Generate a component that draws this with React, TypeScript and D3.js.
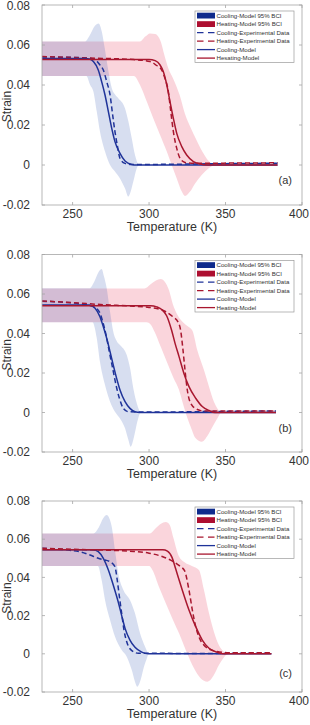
import React, { useEffect } from 'react';
import * as d3 from 'd3';

type Pt = [number, number];

// ---- panel (a) ----
const aCoolBandUpper: Pt[] = [[230, 0.0617], [258, 0.0617], [261, 0.0645], [264.5, 0.0695], [267, 0.0707], [269, 0.067], [271, 0.0585], [273.4, 0.047], [275.6, 0.0385], [278, 0.035], [280, 0.0333], [284.3, 0.0283], [286.5, 0.0217], [288.7, 0.0133], [290.8, 0.005], [293, 0]];
const aCoolBandLower: Pt[] = [[230, 0.0445], [259, 0.0445], [261.5, 0.04], [263.6, 0.0367], [265.8, 0.0267], [267.9, 0.0167], [271.2, 0.0067], [274.5, 0], [277.7, -0.0033], [281, -0.0067], [284.3, -0.0117], [286.5, -0.0158], [288, -0.0133], [289.7, -0.0083], [291.9, -0.0017], [293, 0]];
const aHeatBandUpper: Pt[] = [[230, 0.0617], [294, 0.0617], [297.5, 0.0642], [300.6, 0.0658], [304, 0.0655], [307.5, 0.062], [310, 0.055], [312.5, 0.0485], [316, 0.0428], [320, 0.035], [323.5, 0.0255], [327, 0.019], [331, 0.0125], [335, 0.0065], [339, 0.002], [342.5, 0]];
const aHeatBandLower: Pt[] = [[230, 0.0445], [290, 0.0445], [294.1, 0.04], [298.5, 0.0317], [302.8, 0.0233], [307.2, 0.015], [311.6, 0.0067], [314.8, 0], [318.1, -0.0067], [321.4, -0.0133], [323.5, -0.0155], [326.8, -0.0133], [330.1, -0.0092], [334.4, -0.005], [338.8, -0.0017], [342.5, 0]];
const aCoolExp: Pt[] = [[230, 0.054], [255, 0.0537], [262, 0.0533], [265, 0.0525], [267.9, 0.05], [270.1, 0.0475], [272.3, 0.0417], [274.5, 0.035], [276.2, 0.025], [277.7, 0.0167], [279.2, 0.01], [281, 0.0033], [284.3, 0.0008], [287.5, 0.0003], [300, 0.0003], [340, 0.0006], [384, 0.0009]];
const aHeatExp: Pt[] = [[230, 0.0542], [260, 0.0535], [290, 0.0527], [300.6, 0.0517], [304.5, 0.05], [308.3, 0.0475], [310.4, 0.0433], [312.6, 0.0367], [314.2, 0.0267], [315.9, 0.0167], [318.1, 0.0083], [320.3, 0.0033], [323.5, 0.0013], [328, 0.0009], [384, 0.0011]];
const aCoolModel: Pt[] = [[230, 0.0533], [258, 0.0533], [261, 0.053], [263.6, 0.0517], [266.8, 0.0475], [269, 0.0417], [271.2, 0.035], [273.4, 0.0267], [275.6, 0.0183], [277.7, 0.0117], [281, 0.0058], [284.3, 0.002], [288.7, 0.0003], [292, 0], [384, 0]];
const aHeatModel: Pt[] = [[230, 0.0528], [300, 0.0528], [304, 0.0522], [307.2, 0.05], [309.3, 0.0467], [311.6, 0.04], [313.7, 0.0317], [315.9, 0.0233], [318.1, 0.0158], [321.4, 0.0092], [324.6, 0.005], [329, 0.0017], [333.3, 0.0005], [338, 0], [384, 0]];

// ---- panel (b) ----
const bCoolBandUpper: Pt[] = [[230, 0.0629], [261, 0.0629], [264, 0.066], [267, 0.0712], [269, 0.0727], [270.5, 0.069], [272.3, 0.0629], [274.5, 0.051], [276.6, 0.0409], [279, 0.036], [281, 0.0342], [285.4, 0.0291], [287.6, 0.0224], [289.7, 0.0123], [292.3, 0.0038], [294.1, 0]];
const bCoolBandLower: Pt[] = [[230, 0.0457], [263, 0.0457], [265.8, 0.0376], [267.9, 0.0257], [271.2, 0.0139], [274.5, 0.0055], [277.7, 0.0004], [281, -0.003], [284.3, -0.008], [286.5, -0.0139], [288, -0.0173], [290.2, -0.0122], [292.3, -0.0047], [294.1, 0]];
const bHeatBandUpper: Pt[] = [[230, 0.0628], [297, 0.0628], [301, 0.065], [304.5, 0.0668], [307.6, 0.0676], [310.5, 0.066], [313, 0.062], [315.5, 0.055], [318.5, 0.0495], [322, 0.0458], [325.5, 0.0435], [328.3, 0.0415], [331.5, 0.0316], [335.9, 0.0215], [339.2, 0.0131], [342.4, 0.0055], [346.7, 0]];
const bHeatBandLower: Pt[] = [[230, 0.0457], [298.5, 0.0457], [301, 0.0445], [303.5, 0.041], [307.5, 0.0335], [312, 0.0249], [316, 0.0175], [319.6, 0.0114], [322, 0.005], [323.9, 0], [327.2, -0.0072], [330.5, -0.0131], [334.4, -0.0148], [339.2, -0.0105], [342.4, -0.006], [345.6, -0.0017], [346.7, 0]];
const bCoolExp: Pt[] = [[230, 0.0563], [245, 0.0558], [255, 0.055], [263.6, 0.0536], [267.5, 0.051], [269.7, 0.046], [271.9, 0.0392], [274, 0.0308], [276.2, 0.0224], [278.4, 0.0139], [280.6, 0.0072], [283.2, 0.0021], [286.5, 0.0004], [300, 0.0002], [340, 0.0005], [383, 0.0008]];
const bHeatExp: Pt[] = [[230, 0.0565], [250, 0.0556], [270, 0.0546], [290, 0.0538], [300, 0.0532], [305, 0.0527], [311, 0.051], [315.5, 0.0485], [318.8, 0.046], [320.6, 0.0418], [322.2, 0.0316], [323.5, 0.0215], [325, 0.0114], [327.2, 0.0047], [331.6, 0.0015], [336, 0.0007], [383, 0.0008]];
const bCoolModel: Pt[] = [[230, 0.0544], [261, 0.0544], [264.7, 0.0528], [267.9, 0.0485], [270.1, 0.0434], [272.3, 0.0376], [274.5, 0.0308], [276.6, 0.024], [278.8, 0.0173], [281, 0.0114], [284.3, 0.0055], [287.5, 0.0021], [290.8, 0.0004], [294, 0], [383, 0]];
const bHeatModel: Pt[] = [[230, 0.0541], [301, 0.0541], [305, 0.0535], [308.5, 0.052], [311.5, 0.049], [314.7, 0.0418], [317, 0.035], [319.6, 0.0283], [322.8, 0.0198], [326.1, 0.0131], [330.5, 0.0072], [334.8, 0.003], [339.2, 0.001], [343, 0], [383, 0]];

// ---- panel (c) ----
const cCoolBandUpper: Pt[] = [[230, 0.063], [263.6, 0.063], [267, 0.066], [270, 0.071], [272.3, 0.0727], [274, 0.071], [275.6, 0.0665], [277.7, 0.0543], [279.9, 0.0421], [283.2, 0.0334], [287.5, 0.0282], [290.8, 0.0212], [294.1, 0.0107], [297.4, 0.0037], [299.5, 0]];
const cCoolBandLower: Pt[] = [[230, 0.046], [266.5, 0.046], [269, 0.0386], [271.2, 0.0282], [274.5, 0.0177], [277.7, 0.009], [282.1, 0.002], [285.4, -0.0015], [288.7, -0.0085], [290.8, -0.0146], [292.3, -0.0172], [294.5, -0.0136], [296.7, -0.0067], [298.9, -0.0015], [299.5, 0]];
const cHeatBandUpper: Pt[] = [[230, 0.063], [300.5, 0.063], [304, 0.0655], [307.5, 0.068], [311, 0.069], [313.5, 0.0675], [316, 0.0605], [319, 0.052], [323, 0.048], [328, 0.046], [332.6, 0.0439], [335.9, 0.0334], [339.2, 0.0212], [342.4, 0.0116], [345.6, 0.0046], [348.9, 0.0011], [351, 0]];
const cHeatBandLower: Pt[] = [[230, 0.046], [300, 0.046], [302.2, 0.0439], [306.5, 0.035], [311, 0.0264], [315.5, 0.018], [319.6, 0.0107], [325, 0], [329.4, -0.0076], [333.7, -0.0128], [338.1, -0.0146], [342.4, -0.0111], [345.6, -0.006], [348.9, -0.002], [351, 0]];
const cCoolExp: Pt[] = [[230, 0.0552], [254.9, 0.0534], [261.4, 0.0517], [266.8, 0.05], [271.2, 0.0491], [274.5, 0.0482], [277.7, 0.0456], [279.2, 0.0386], [280.6, 0.0299], [282.1, 0.0212], [283.6, 0.0125], [285.4, 0.0063], [288.7, 0.0017], [293, 0.0003], [330, 0.0002], [380, 0.0003]];
const cHeatExp: Pt[] = [[230, 0.0552], [260, 0.0545], [290, 0.0536], [300, 0.0527], [309, 0.0508], [316, 0.0482], [320, 0.046], [323.2, 0.0435], [326.1, 0.0334], [328.3, 0.0229], [330.5, 0.0142], [333, 0.0081], [336.9, 0.0037], [342.4, 0.0016], [351, 0.0006], [380, 0.0005]];
const cCoolModel: Pt[] = [[230, 0.0545], [263.6, 0.0545], [266.8, 0.0535], [270.1, 0.05], [273.4, 0.0439], [276.6, 0.036], [279.9, 0.027], [282.1, 0.02], [284.3, 0.0133], [287.5, 0.0072], [290.8, 0.0034], [295.2, 0.0009], [299.5, 0], [380, 0]];
const cHeatModel: Pt[] = [[230, 0.0545], [309, 0.0545], [312, 0.0538], [315, 0.0505], [317.4, 0.0445], [319.5, 0.039], [321.7, 0.0334], [326.1, 0.0229], [330.5, 0.0142], [334.8, 0.0072], [339.2, 0.0029], [344.6, 0.0008], [348, 0], [380, 0]];

const xTicks = [250, 300, 350, 400];
const yTicks = [-0.02, 0, 0.02, 0.04, 0.06, 0.08];
const legendA = ['Cooling-Model 95% BCI', 'Heating-Model 95% BCI', 'Cooling-Experimental Data', 'Heating-Experimental Data', 'Cooling-Model', 'Hesating-Model'];
const legendBC = ['Cooling-Model 95% BCI', 'Heating-Model 95% BCI', 'Cooling-Experimental Data', 'Heating-Experimental Data', 'Cooling-Model', 'Heating-Model'];

const COOL = '#1f3399';
const HEAT = '#a8172f';
const AXIS = '#a6a6a6';
const FONT = '"Liberation Sans", Arial, Helvetica, sans-serif';

const panels = [
  { top: 5, bottom: 205, tag: '(a)', tagY: 184, legend: legendA,
    coolBand: [aCoolBandUpper, aCoolBandLower], heatBand: [aHeatBandUpper, aHeatBandLower],
    coolExp: aCoolExp, heatExp: aHeatExp, coolModel: aCoolModel, heatModel: aHeatModel },
  { top: 254.5, bottom: 452, tag: '(b)', tagY: 432, legend: legendBC,
    coolBand: [bCoolBandUpper, bCoolBandLower], heatBand: [bHeatBandUpper, bHeatBandLower],
    coolExp: bCoolExp, heatExp: bHeatExp, coolModel: bCoolModel, heatModel: bHeatModel },
  { top: 501, bottom: 692, tag: '(c)', tagY: 677, legend: legendBC,
    coolBand: [cCoolBandUpper, cCoolBandLower], heatBand: [cHeatBandUpper, cHeatBandLower],
    coolExp: cCoolExp, heatExp: cHeatExp, coolModel: cCoolModel, heatModel: cHeatModel },
];

const x = d3.scaleLinear().domain([230, 400]).range([42, 302]);

function Panel({ p }: { p: typeof panels[number] }) {
  const y = d3.scaleLinear().domain([-0.02, 0.08]).range([p.bottom, p.top]);
  const line = d3.line<Pt>().x(d => x(d[0])).y(d => y(d[1])).curve(d3.curveMonotoneX);

  const band = (upper: Pt[], lower: Pt[]) => {
    const up = line(upper) || '';
    const lo = line(lower.slice().reverse()) || '';
    return up + 'L' + lo.slice(1) + 'Z';
  };

  const x0 = x.range()[0], x1 = x.range()[1];
  const fmt = (v: number) => (v === 0 ? '0' : v.toFixed(2));

  // legend
  const lx = 195, lw = 99, ltop = p.top + 6, lh = 51.5, rowGap = 8.5;
  const rowY = (i: number) => ltop + 4.6 + i * rowGap;

  return (
    <g>
      <path d={band(p.heatBand[0], p.heatBand[1])} fill="rgb(230,45,80)" fillOpacity={0.2} />
      <path d={band(p.coolBand[0], p.coolBand[1])} fill="rgb(55,90,180)" fillOpacity={0.2} />

      <path d={line(p.coolExp) || ''} fill="none" stroke={COOL} strokeWidth={1.5} strokeDasharray="5,3" />
      <path d={line(p.heatExp) || ''} fill="none" stroke={HEAT} strokeWidth={1.5} strokeDasharray="5,3" />
      <path d={line(p.coolModel) || ''} fill="none" stroke={COOL} strokeWidth={1.5} />
      <path d={line(p.heatModel) || ''} fill="none" stroke={HEAT} strokeWidth={1.5} />

      {/* box and ticks */}
      <rect x={x0} y={p.top} width={x1 - x0} height={p.bottom - p.top} fill="none" stroke={AXIS} strokeWidth={0.8} />
      {xTicks.map(t => (
        <g key={'x' + t}>
          <line x1={x(t)} x2={x(t)} y1={p.bottom} y2={p.bottom - 3} stroke={AXIS} strokeWidth={0.8} />
          <line x1={x(t)} x2={x(t)} y1={p.top} y2={p.top + 3} stroke={AXIS} strokeWidth={0.8} />
          <text x={Math.min(x(t), 299)} y={p.bottom + 12.5} textAnchor="middle" fontSize={12} fill="#333">{t}</text>
        </g>
      ))}
      {yTicks.map(t => (
        <g key={'y' + t}>
          <line x1={x0} x2={x0 + 3} y1={y(t)} y2={y(t)} stroke={AXIS} strokeWidth={0.8} />
          <line x1={x1} x2={x1 - 3} y1={y(t)} y2={y(t)} stroke={AXIS} strokeWidth={0.8} />
          <text x={30} y={Math.max(y(t), 6)} dy="0.35em" textAnchor="end" fontSize={12} fill="#333">{fmt(t)}</text>
        </g>
      ))}
      <text x={(x0 + x1) / 2} y={p.bottom + 26} textAnchor="middle" fontSize={12.5} fill="#333">Temperature (K)</text>
      <text transform={`translate(10.5,${(p.top + p.bottom) / 2 + 1.5}) rotate(-90)`} textAnchor="middle" fontSize={12} fill="#333">Strain</text>
      <text x={292} y={p.tagY} textAnchor="end" fontSize={11} fill="#333">{p.tag}</text>

      {/* legend */}
      <rect x={lx} y={ltop} width={lw} height={lh} fill="#fff" stroke="#9a9a9a" strokeWidth={0.7} />
      {p.legend.map((label, i) => {
        const cy = rowY(i);
        const col = i % 2 === 0 ? COOL : HEAT;
        let sw;
        if (i < 2) sw = <rect x={197} y={cy - 2.9} width={18} height={5.8} fill={i === 0 ? '#0f2b8c' : '#ad0f30'} />;
        else sw = <line x1={197} x2={215} y1={cy} y2={cy} stroke={col} strokeWidth={1.3} strokeDasharray={i < 4 ? '6.5,4.5' : undefined} />;
        return (
          <g key={label + i}>
            {sw}
            <text x={216.5} y={cy} dy="0.35em" fontSize={6.1} fill="#333">{label}</text>
          </g>
        );
      })}
    </g>
  );
}

export default function App() {
  useEffect(() => {
    document.body.style.margin = '0';
  }, []);
  return (
    <svg width={310} height={725} style={{ position: 'absolute', left: 0, top: 0, background: '#fff' }} fontFamily={FONT}>
      <rect width={310} height={725} fill="#fff" />
      {panels.map(p => <Panel key={p.tag} p={p} />)}
    </svg>
  );
}
